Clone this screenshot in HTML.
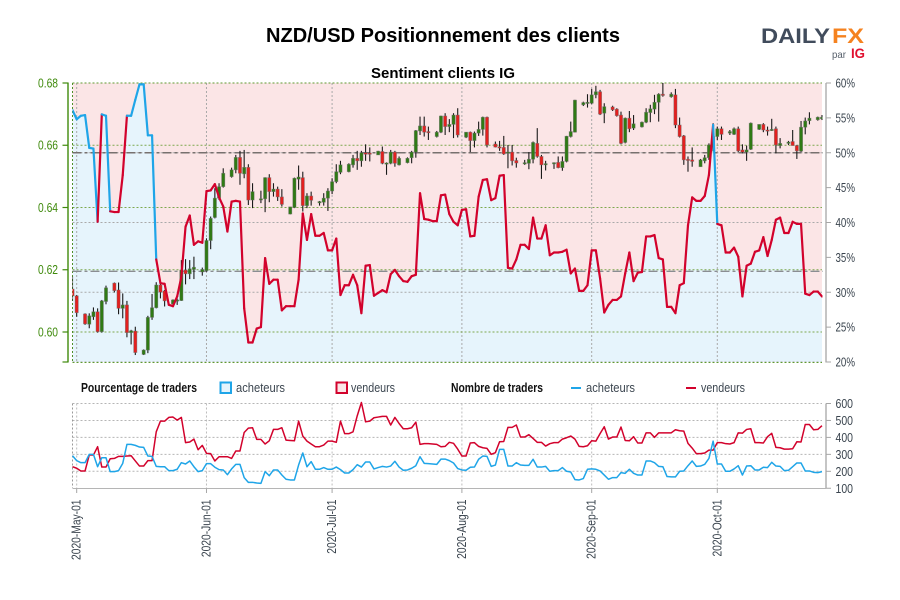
<!DOCTYPE html>
<html lang="fr">
<head>
<meta charset="utf-8">
<title>NZD/USD Positionnement des clients</title>
<style>
html,body{margin:0;padding:0;background:#fff;}
svg{display:block;font-family:"Liberation Sans",Arial,sans-serif;}
</style>
</head>
<body>
<svg id="chart" xmlns="http://www.w3.org/2000/svg" width="900" height="600" viewBox="0 0 900 600">
  <defs>
    <clipPath id="plot-clip"><rect x="72.5" y="83" width="750" height="279"></rect></clipPath>
  </defs>
  <text x="443" y="42" text-anchor="middle" font-size="20" font-weight="bold" fill="#000" textLength="354" lengthAdjust="spacingAndGlyphs">NZD/USD Positionnement des clients</text>
  <text x="443" y="78" text-anchor="middle" font-size="15" font-weight="bold" fill="#000" textLength="144" lengthAdjust="spacingAndGlyphs">Sentiment clients IG</text>

  <g>
    <text x="761" y="43" font-size="21" font-weight="bold" fill="#414c5c" textLength="69" lengthAdjust="spacingAndGlyphs">DAILY</text>
    <text x="832" y="43" font-size="21" font-weight="bold" fill="#f5821f" textLength="32" lengthAdjust="spacingAndGlyphs">FX</text>
    <text x="832" y="58" font-size="10.5" fill="#555e6a" textLength="14" lengthAdjust="spacingAndGlyphs">par</text>
    <text x="851" y="58" font-size="14" font-weight="bold" fill="#e0102f" textLength="14" lengthAdjust="spacingAndGlyphs">IG</text>
  </g>

  <g id="top-plot"></g>
  <g id="axes"></g>
  <g id="bottom-plot"></g>

  <g font-size="13" fill="#3c4650">
    <text x="81" y="392" font-weight="bold" fill="#111" textLength="116" lengthAdjust="spacingAndGlyphs">Pourcentage de traders</text>
    <rect x="220.5" y="382.5" width="10.5" height="10.5" fill="#e6f4fc" stroke="#1fa5e8" stroke-width="2"></rect>
    <text x="236" y="392" textLength="49" lengthAdjust="spacingAndGlyphs">acheteurs</text>
    <rect x="336.5" y="382.5" width="10.5" height="10.5" fill="#fbe6e7" stroke="#d2022c" stroke-width="2"></rect>
    <text x="351" y="392" textLength="44" lengthAdjust="spacingAndGlyphs">vendeurs</text>
    <text x="451" y="392" font-weight="bold" fill="#111" textLength="92" lengthAdjust="spacingAndGlyphs">Nombre de traders</text>
    <line x1="571" y1="388" x2="581" y2="388" stroke="#1fa5e8" stroke-width="2"></line>
    <text x="586" y="392" textLength="49" lengthAdjust="spacingAndGlyphs">acheteurs</text>
    <line x1="686" y1="388" x2="696" y2="388" stroke="#d2022c" stroke-width="2"></line>
    <text x="701" y="392" textLength="44" lengthAdjust="spacingAndGlyphs">vendeurs</text>
  </g>
</svg>

<script>
const dateTicks = [1, 32, 62, 93, 124, 154];
const dateLabels = ['2020-May-01', '2020-Jun-01', '2020-Jul-01', '2020-Aug-01', '2020-Sep-01', '2020-Oct-01'];
const priceTicks = [0.68, 0.66, 0.64, 0.62, 0.60];
const priceTickLabels = ['0.68', '0.66', '0.64', '0.62', '0.60'];
const percentTicks = [60, 55, 50, 45, 40, 35, 30, 25, 20];
const percentTickLabels = ['60%', '55%', '50%', '45%', '40%', '35%', '30%', '25%', '20%'];
const percentGrid = [60, 50, 40, 30, 20];
const referenceLevels = [50, 33];
const countTicks = [600, 500, 400, 300, 200, 100];
const countTickLabels = ['600', '500', '400', '300', '200', '100'];

const buyerPercent = [
56.1,54.8,55.3,55.4,50.7,50.6,40.1,55.5,55.3,41.6,
41.5,41.5,46.8,55.3,55.3,57.6,59.8,59.8,52.5,52.5,
34.7,31.3,31.2,28.2,28.0,29.4,32.2,39.4,41.0,36.8,
37.3,37.1,44.5,44.6,45.5,43.6,42.3,38.7,43.0,43.1,
43.0,27.7,22.8,22.8,24.8,25.0,34.9,31.2,31.8,31.8,
27.4,28.0,28.0,28.0,31.8,41.3,37.5,41.2,38.1,38.1,
38.5,36.0,36.0,37.7,29.6,31.0,31.0,32.5,31.0,27.0,
33.8,33.9,29.5,29.9,30.3,30.0,32.6,33.2,32.3,31.6,
31.5,32.3,32.5,44.2,40.5,40.4,40.2,40.2,43.9,44.0,
41.2,40.1,39.6,41.8,41.9,38.0,38.1,43.7,46.1,46.2,
43.2,43.5,46.7,46.8,33.5,33.4,34.7,36.8,36.8,36.2,
40.7,37.7,37.7,39.6,35.3,35.7,35.7,35.8,36.1,32.7,
33.4,30.2,30.2,31.0,36.0,36.0,32.0,27.1,28.2,28.9,
28.9,29.4,32.7,35.7,31.6,32.8,32.9,38.0,38.0,38.2,
34.9,34.7,27.9,27.9,27.0,31.0,31.3,39.6,43.6,43.1,
43.1,43.8,46.8,54.0,39.8,39.6,35.7,35.7,36.4,35.1,
29.4,33.8,34.1,35.8,36.0,37.9,35.2,37.5,40.4,40.7,
38.5,38.5,40.1,39.8,39.8,29.8,29.6,30.1,30.1,29.4
];

const buyerCount = [
292,263,251,251,300,300,227,280,280,198,
198,204,247,359,359,353,343,341,290,288,
229,227,227,204,204,212,251,243,261,227,
198,204,245,245,224,210,208,180,214,241,
241,163,135,135,131,129,198,174,208,208,
178,153,149,149,237,308,227,257,212,212,
222,212,212,225,210,190,190,210,239,225,
255,255,214,222,229,225,231,259,225,206,
208,218,233,286,247,245,243,241,272,272,
263,249,216,208,206,224,225,271,290,288,
229,237,329,329,231,231,251,237,235,235,
271,225,225,229,200,204,204,222,200,196,
151,149,157,212,214,212,202,178,153,163,
163,192,188,212,188,178,178,261,261,251,
229,227,169,167,167,200,202,233,261,229,
231,241,276,378,243,243,200,200,214,233,
178,231,233,208,208,224,222,253,231,229,
204,206,227,249,249,202,202,194,192,198
];

const sellerCount = [
227,218,202,202,296,296,345,225,225,274,
276,288,288,290,292,261,231,231,263,263,
433,496,496,518,520,502,518,369,373,390,
327,353,306,304,261,286,286,286,276,320,
320,429,455,457,388,388,361,380,447,447,
457,384,382,380,496,408,378,361,345,345,
355,378,378,371,496,422,422,433,527,606,
492,496,516,520,524,524,473,518,482,451,
451,457,490,359,363,363,361,359,345,347,
371,365,331,290,290,367,369,347,339,335,
300,310,374,376,459,459,473,402,402,416,
394,371,371,349,363,369,369,390,398,408,
390,347,345,351,380,378,422,463,390,402,
402,461,382,380,404,367,367,427,427,400,
427,427,427,427,445,439,437,365,337,304,
304,308,325,325,369,369,363,361,369,427,
425,447,451,369,369,367,404,424,341,339,
331,331,333,374,373,476,476,445,447,469
];

const candleDay = [
0,1,
3,4,5,6,7,8,
10,11,12,13,14,15,
17,18,19,20,21,22,
24,25,26,27,28,29,
31,32,33,34,35,36,
38,39,40,41,42,43,
45,46,47,48,49,50,
52,53,54,55,56,57,
59,60,61,62,63,64,
66,67,68,69,70,71,
73,74,75,76,77,78,
80,81,82,83,84,85,
87,88,89,90,91,92,
94,95,96,97,98,99,
101,102,103,104,105,106,
108,109,110,111,112,113,
115,116,117,118,119,120,
122,123,124,125,126,127,
129,130,131,132,133,134,
136,137,138,139,140,141,
143,144,145,146,147,148,
150,151,152,153,154,155,
157,158,159,160,161,162,
164,165,166,167,168,169,
171,172,173,174,175,176,
178,179
];

const candleOpen = [
.6138,.6116,
.6058,.6025,.6049,.6065,.6001,.6098,
.6157,.6135,.6076,.6087,.5998,.6003,
.5928,.5942,.6047,.6078,.6151,.6132,
.6090,.6100,.6101,.6199,.6187,.6201,
.6193,.6197,.6294,.6368,.6430,.6467,
.6499,.6521,.6561,.6508,.6529,.6424,
.6424,.6428,.6496,.6451,.6459,.6434,
.6379,.6400,.6491,.6496,.6406,.6437,
.6415,.6417,.6430,.6453,.6483,.6513,
.6515,.6537,.6558,.6550,.6576,.6575,
.6569,.6580,.6541,.6542,.6578,.6537,
.6544,.6560,.6578,.6646,.6662,.6644,
.6628,.6642,.6694,.6660,.6667,.6697,
.6626,.6642,.6615,.6639,.6651,.6690,
.6604,.6595,.6593,.6574,.6578,.6551,
.6542,.6542,.6555,.6606,.6564,.6539,
.6542,.6545,.6528,.6548,.6628,.6642,
.6730,.6736,.6735,.6762,.6772,.6703,
.6723,.6716,.6697,.6609,.6687,.6655,
.6659,.6674,.6705,.6716,.6738,.6764,
.6756,.6762,.6665,.6630,.6555,.6553,
.6531,.6550,.6560,.6599,.6628,.6653,
.6639,.6635,.6653,.6585,.6578,.6587,
.6651,.6667,.6649,.6648,.6653,.6599,
.6606,.6612,.6599,.6581,.6658,.6679,
.6682,.6685
];

const candleHigh = [
.6178,.6119,
.6060,.6060,.6079,.6076,.6103,.6149,
.6159,.6159,.6124,.6100,.6007,.6017,
.5944,.6052,.6122,.6160,.6157,.6135,
.6105,.6108,.6231,.6234,.6231,.6242,
.6207,.6301,.6371,.6462,.6478,.6526,
.6528,.6569,.6582,.6585,.6539,.6478,
.6454,.6497,.6507,.6478,.6467,.6459,
.6402,.6496,.6535,.6515,.6446,.6451,
.6421,.6446,.6462,.6494,.6539,.6550,
.6542,.6569,.6582,.6582,.6603,.6593,
.6582,.6596,.6545,.6585,.6582,.6564,
.6561,.6582,.6649,.6692,.6692,.6660,
.6646,.6695,.6703,.6684,.6703,.6719,
.6642,.6644,.6644,.6676,.6692,.6692,
.6612,.6614,.6630,.6601,.6601,.6560,
.6553,.6578,.6612,.6655,.6569,.6550,
.6545,.6564,.6564,.6630,.6676,.6746,
.6740,.6764,.6781,.6791,.6778,.6735,
.6727,.6719,.6708,.6689,.6710,.6697,
.6676,.6719,.6730,.6762,.6767,.6805,
.6770,.6781,.6689,.6633,.6564,.6593,
.6556,.6569,.6606,.6671,.6660,.6660,
.6649,.6657,.6660,.6603,.6599,.6673,
.6667,.6671,.6660,.6685,.6660,.6623,
.6614,.6649,.6601,.6678,.6689,.6706,
.6692,.6697
];

const candleLow = [
.6100,.6049,
.6023,.6012,.6039,.5998,.5998,.6089,
.6127,.6057,.6044,.5983,.5960,.5926,
.5926,.5932,.6039,.6076,.6108,.6082,
.6084,.6087,.6100,.6153,.6170,.6170,
.6181,.6194,.6266,.6365,.6424,.6464,
.6496,.6510,.6473,.6494,.6408,.6398,
.6414,.6385,.6417,.6435,.6421,.6403,
.6378,.6398,.6457,.6387,.6398,.6406,
.6406,.6406,.6389,.6443,.6478,.6507,
.6513,.6528,.6521,.6531,.6550,.6548,
.6569,.6539,.6505,.6539,.6531,.6535,
.6542,.6542,.6560,.6633,.6628,.6617,
.6625,.6639,.6633,.6642,.6623,.6625,
.6623,.6578,.6593,.6630,.6631,.6593,
.6593,.6582,.6569,.6526,.6535,.6528,
.6537,.6523,.6542,.6560,.6492,.6519,
.6524,.6526,.6518,.6545,.6625,.6641,
.6726,.6721,.6732,.6751,.6697,.6671,
.6710,.6692,.6603,.6606,.6642,.6649,
.6657,.6671,.6674,.6700,.6676,.6756,
.6753,.6655,.6625,.6537,.6515,.6531,
.6531,.6542,.6553,.6580,.6617,.6617,
.6633,.6633,.6578,.6574,.6550,.6585,
.6649,.6642,.6631,.6646,.6574,.6590,
.6601,.6599,.6556,.6578,.6635,.6667,
.6679,.6681
];

const candleClose = [
.6116,.6062,
.6026,.6052,.6065,.6001,.6100,.6142,
.6133,.6076,.6087,.5998,.6004,.5934,
.5942,.6047,.6078,.6151,.6128,.6100,
.6103,.6103,.6199,.6187,.6203,.6208,
.6201,.6294,.6365,.6430,.6467,.6510,
.6521,.6561,.6510,.6529,.6424,.6451,
.6428,.6496,.6451,.6459,.6434,.6410,
.6402,.6494,.6498,.6406,.6437,.6423,
.6419,.6430,.6453,.6483,.6515,.6537,
.6539,.6558,.6550,.6576,.6571,.6571,
.6581,.6542,.6543,.6578,.6542,.6558,
.6558,.6578,.6647,.6662,.6642,.6642,
.6642,.6694,.6660,.6667,.6697,.6633,
.6642,.6615,.6639,.6651,.6690,.6601,
.6594,.6593,.6572,.6578,.6550,.6543,
.6544,.6555,.6609,.6564,.6537,.6541,
.6544,.6528,.6548,.6629,.6644,.6745,
.6737,.6738,.6762,.6772,.6700,.6724,
.6714,.6695,.6606,.6687,.6653,.6669,
.6674,.6706,.6717,.6738,.6764,.6760,
.6764,.6665,.6628,.6553,.6551,.6548,
.6553,.6560,.6601,.6628,.6653,.6635,
.6644,.6653,.6582,.6578,.6585,.6671,
.6667,.6649,.6647,.6651,.6601,.6606,
.6610,.6599,.6582,.6658,.6678,.6687,
.6690,.6690
];

const NS = 'http://www.w3.org/2000/svg';
const xScale = d => 72.5 + 4.187 * d;
const priceScale = p => 83 + (0.68 - p) * 3112.5;
const percentScale = v => 83 + (60 - v) * 6.975;
const countScale = v => 403.5 + (600 - v) * 0.1695;

function make(parent, tag, attrs, text) {
  const el = document.createElementNS(NS, tag);
  for (const k in attrs) el.setAttribute(k, attrs[k]);
  if (text !== undefined) el.textContent = text;
  parent.appendChild(el);
  return el;
}
const linePath = (values, yFn) => values.map((v, i) => (i ? 'L' : 'M') + xScale(i).toFixed(2) + ' ' + yFn(v).toFixed(2)).join(' ');

const topPlot = document.getElementById('top-plot');
const axes = document.getElementById('axes');
const bottomPlot = document.getElementById('bottom-plot');
const lastDay = buyerPercent.length - 1;

/* plot backgrounds */
const sellersArea = make(topPlot, 'rect', {x: 72.5, y: 83, width: xScale(lastDay) - 72.5, height: 279, fill: '#fbe5e6'});


const buyersArea = make(topPlot, 'path', {d: linePath(buyerPercent, percentScale) + ' L' + xScale(lastDay) + ' 362 L72.5 362 Z', fill: '#e6f4fc'});



/* top grid */
dateTicks.forEach(d => {
  const g = make(topPlot, 'line', {x1: xScale(d), x2: xScale(d), y1: 83, y2: 362, stroke: '#a9a9a9', 'stroke-width': 1, 'stroke-dasharray': '2 2'});
  
  
});
percentGrid.forEach(v => {
  const g = make(topPlot, 'line', {x1: 72.5, x2: xScale(lastDay), y1: percentScale(v), y2: percentScale(v), stroke: '#a9a9a9', 'stroke-width': 1, 'stroke-dasharray': '2 2'});
  
  
});
priceTicks.forEach(p => {
  const g = make(topPlot, 'line', {x1: 72.5, x2: xScale(lastDay), y1: priceScale(p), y2: priceScale(p), stroke: '#7da84e', 'stroke-width': 1, 'stroke-dasharray': '2 2'});
  
  
});
const plotBottom = make(topPlot, 'line', {x1: 72.5, x2: xScale(lastDay), y1: 362.5, y2: 362.5, stroke: '#5f9a32', 'stroke-width': 1, 'stroke-dasharray': '2 2'});


const plotTop = make(topPlot, 'line', {x1: 72.5, x2: xScale(lastDay), y1: 83, y2: 83, stroke: '#5f9a32', 'stroke-width': 1, 'stroke-dasharray': '2 2'});


const plotLeft = make(topPlot, 'line', {x1: 72.5, x2: 72.5, y1: 83, y2: 362, stroke: '#4f8f28', 'stroke-width': 1, 'stroke-dasharray': '2 2'});



/* reference lines */
referenceLevels.forEach((v, n) => {
  const g = make(topPlot, 'line', {x1: 72.5, x2: 823, y1: percentScale(v), y2: percentScale(v), stroke: n ? '#8a8d92' : '#77716f', 'stroke-width': n ? 1.3 : 1.6, 'stroke-dasharray': '9 3 3 3'});
  
  
});

/* candles */
const candleGroup = make(topPlot, 'g', {'clip-path': 'url(#plot-clip)'});


candleDay.forEach((d, i) => {
  const up = candleClose[i] >= candleOpen[i];
  const cx = xScale(d);
  const g = make(candleGroup, 'g', {});
  
  
  make(g, 'line', {x1: cx, x2: cx, y1: priceScale(candleHigh[i]), y2: priceScale(candleLow[i]), stroke: '#1a1a1a', 'stroke-width': 1.1});
  const top = priceScale(Math.max(candleOpen[i], candleClose[i]));
  const h = Math.max(1.2, Math.abs(priceScale(candleOpen[i]) - priceScale(candleClose[i])));
  make(g, 'rect', {x: cx - 1.6, y: top, width: 3.2, height: h, fill: up ? '#2f7a14' : '#e3201f', stroke: 'rgba(110,110,110,.6)', 'stroke-width': 0.7});
});

/* sentiment line: segment colour follows its starting value */
const sentimentGroup = make(topPlot, 'g', {'clip-path': 'url(#plot-clip)', fill: 'none', 'stroke-width': 2.2, 'stroke-linejoin': 'round', 'stroke-linecap': 'round'});


buyerPercent.forEach((v, i) => {
  if (i === lastDay) return;
  const seg = make(sentimentGroup, 'line', {x1: xScale(i), y1: percentScale(v), x2: xScale(i + 1), y2: percentScale(buyerPercent[i + 1]), stroke: v >= 50 ? '#1fa5e8' : '#d2022c'});
  
  
});

/* left price axis */
const leftAxis = make(axes, 'line', {x1: 68, x2: 68, y1: 82.5, y2: 362.5, stroke: '#3f8a0c', 'stroke-width': 1.4});


priceTicks.forEach((p, i) => {
  const t = make(axes, 'line', {x1: 62.5, x2: 68, y1: priceScale(p), y2: priceScale(p), stroke: '#3f8a0c', 'stroke-width': 1.2});
  
  
  const l = make(axes, 'text', {x: 58, y: priceScale(p) + 4.3, 'text-anchor': 'end', 'font-size': 13, fill: '#3f8a0c', textLength: 20, lengthAdjust: 'spacingAndGlyphs'}, priceTickLabels[i]);
  
  
});
const leftBottomTick = make(axes, 'line', {x1: 62.5, x2: 68, y1: 362, y2: 362, stroke: '#3f8a0c', 'stroke-width': 1.2});



/* right percent axis */
const rightAxis = make(axes, 'line', {x1: 826, x2: 826, y1: 83, y2: 362.5, stroke: '#a6a6a6', 'stroke-width': 1.3});


percentTicks.forEach((v, i) => {
  const t = make(axes, 'line', {x1: 826, x2: 831, y1: percentScale(v), y2: percentScale(v), stroke: '#a6a6a6', 'stroke-width': 1});
  
  
  const l = make(axes, 'text', {x: 835.5, y: percentScale(v) + 4.5, 'font-size': 13, fill: '#3a444e', textLength: 19.5, lengthAdjust: 'spacingAndGlyphs'}, percentTickLabels[i]);
  
  
});

/* bottom panel grid */
dateTicks.forEach(d => {
  const g = make(bottomPlot, 'line', {x1: xScale(d), x2: xScale(d), y1: 403.5, y2: 488, stroke: '#bdbdbd', 'stroke-width': 1, 'stroke-dasharray': '2 2'});
  
  
});
countTicks.forEach((v, i) => {
  if (v > 100) {
    const g = make(bottomPlot, 'line', {x1: 72.5, x2: xScale(lastDay), y1: countScale(v), y2: countScale(v), stroke: '#b5b5b5', 'stroke-width': 1, 'stroke-dasharray': '2 2'});
    
    
  }
  const t = make(bottomPlot, 'line', {x1: 826, x2: 831, y1: countScale(v), y2: countScale(v), stroke: '#a6a6a6', 'stroke-width': 1});
  
  
  const l = make(bottomPlot, 'text', {x: 835.5, y: countScale(v) + 4.5, 'font-size': 13, fill: '#3a444e', textLength: 17.5, lengthAdjust: 'spacingAndGlyphs'}, countTickLabels[i]);
  
  
});
const countLeft = make(bottomPlot, 'line', {x1: 72.5, x2: 72.5, y1: 403.5, y2: 488, stroke: '#9a9a9a', 'stroke-width': 1, 'stroke-dasharray': '2 2'});


const countRight = make(bottomPlot, 'line', {x1: 826, x2: 826, y1: 403.5, y2: 488.5, stroke: '#a6a6a6', 'stroke-width': 1.3});


const timeAxis = make(bottomPlot, 'line', {x1: 72.5, x2: 826, y1: 488.5, y2: 488.5, stroke: '#b5b5b5', 'stroke-width': 1});



/* date ticks and labels */
dateTicks.forEach((d, i) => {
  const t = make(bottomPlot, 'line', {x1: xScale(d), x2: xScale(d), y1: 488.5, y2: 493, stroke: '#a6a6a6', 'stroke-width': 1});
  
  
  const l = make(bottomPlot, 'text', {transform: 'translate(' + (xScale(d) + 4) + ' 499.5) rotate(-90) scale(.79 1)', 'text-anchor': 'end', 'font-size': 13, fill: '#3a444e'}, dateLabels[i]);
  
  
});

/* trader count lines */
const sellersLine = make(bottomPlot, 'path', {d: linePath(sellerCount, countScale), fill: 'none', stroke: '#d2022c', 'stroke-width': 1.5, 'stroke-linejoin': 'round'});


const buyersLine = make(bottomPlot, 'path', {d: linePath(buyerCount, countScale), fill: 'none', stroke: '#1fa5e8', 'stroke-width': 1.5, 'stroke-linejoin': 'round'});


</script>
</body>
</html>
